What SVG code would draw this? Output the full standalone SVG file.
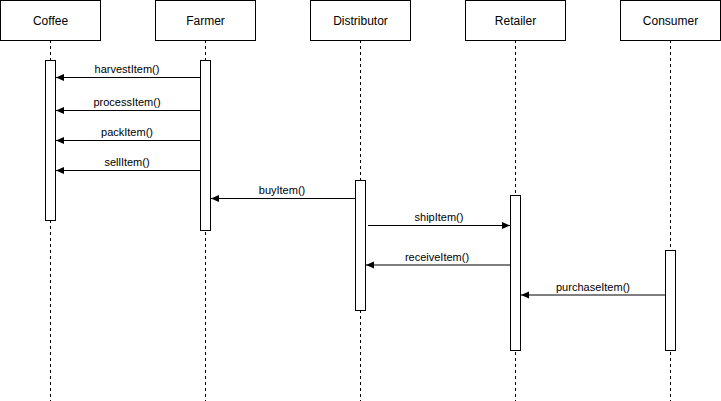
<svg xmlns="http://www.w3.org/2000/svg" width="721" height="401" viewBox="0 0 721 401">
  <defs>
    <marker id="arrow" viewBox="0 0 10 10" refX="10" refY="5" markerWidth="8" markerHeight="8" markerUnits="userSpaceOnUse" orient="auto">
      <path d="M0,0.6 L10,5 L0,9.4 Z" fill="#000"/>
    </marker>
    <style>
      .head { fill: #fff; stroke: #000; stroke-width: 1; }
      .name { font-family: "Liberation Sans", Arial, sans-serif; font-size: 12px; fill: #000; text-anchor: middle; }
      .life { stroke: #000; stroke-width: 1; stroke-dasharray: 3 3; fill: none; }
      .act { fill: #fff; stroke: #000; stroke-width: 1; }
      .msg { stroke: #000; stroke-width: 1; fill: none; marker-end: url(#arrow); }
      .lbl { font-family: "Liberation Sans", Arial, sans-serif; font-size: 11px; fill: #000; text-anchor: middle; }
    </style>
  </defs>
  <rect width="721" height="401" fill="#fff"/>

  <!-- lifelines -->
  <g id="lifelines">
    <line class="life" x1="50.5" y1="40" x2="50.5" y2="401"/>
    <line class="life" x1="205.5" y1="40" x2="205.5" y2="401"/>
    <line class="life" x1="360.5" y1="40" x2="360.5" y2="401"/>
    <line class="life" x1="515.5" y1="40" x2="515.5" y2="401"/>
    <line class="life" x1="670.5" y1="40" x2="670.5" y2="401"/>
  </g>

  <g id="coffee">
    <rect class="head" x="0.5" y="0.5" width="100" height="40"/>
    <text class="name" x="50.5" y="25">Coffee</text>
    <rect class="act" x="45.5" y="60.5" width="10" height="160"/>
  </g>
  <g id="farmer">
    <rect class="head" x="155.5" y="0.5" width="100" height="40"/>
    <text class="name" x="205.5" y="25">Farmer</text>
    <rect class="act" x="200.5" y="60.5" width="10" height="170"/>
  </g>
  <g id="distributor">
    <rect class="head" x="310.5" y="0.5" width="100" height="40"/>
    <text class="name" x="360.5" y="25">Distributor</text>
    <rect class="act" x="355.5" y="180.5" width="10" height="130"/>
  </g>
  <g id="retailer">
    <rect class="head" x="465.5" y="0.5" width="100" height="40"/>
    <text class="name" x="515.5" y="25">Retailer</text>
    <rect class="act" x="510.5" y="195.5" width="10" height="155"/>
  </g>
  <g id="consumer">
    <rect class="head" x="620.5" y="0.5" width="100" height="40"/>
    <text class="name" x="670.5" y="25">Consumer</text>
    <rect class="act" x="665.5" y="250.5" width="10" height="100"/>
  </g>

  <!-- messages -->
  <g id="connectors">
    <line class="msg" x1="200" y1="77.5" x2="56" y2="77.5"/>
    <line class="msg" x1="200" y1="110.5" x2="56" y2="110.5"/>
    <line class="msg" x1="200" y1="140.5" x2="56" y2="140.5"/>
    <line class="msg" x1="200" y1="170.5" x2="56" y2="170.5"/>
    <line class="msg" x1="355" y1="198.5" x2="211" y2="198.5"/>
    <line class="msg" x1="368" y1="225.5" x2="510" y2="225.5"/>
    <line class="msg" x1="510" y1="265" x2="366" y2="265"/>
    <line class="msg" x1="665" y1="295" x2="521" y2="295"/>
  </g>

  <g id="labels">
    <text class="lbl" x="127" y="73">harvestItem()</text>
    <text class="lbl" x="127" y="106">processItem()</text>
    <text class="lbl" x="127" y="136">packItem()</text>
    <text class="lbl" x="127" y="166">sellItem()</text>
    <text class="lbl" x="282" y="194">buyItem()</text>
    <text class="lbl" x="439" y="221">shipItem()</text>
    <text class="lbl" x="437" y="261">receiveItem()</text>
    <text class="lbl" x="593" y="291">purchaseItem()</text>
  </g>
</svg>
